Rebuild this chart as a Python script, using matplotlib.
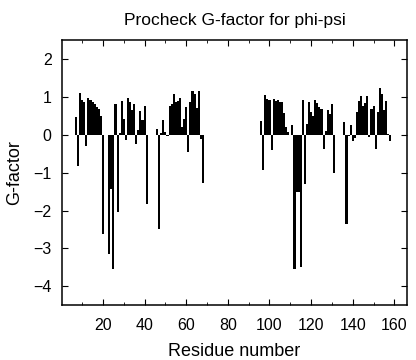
import numpy as np
import matplotlib
matplotlib.use('Agg')
import matplotlib.pyplot as plt
from matplotlib.ticker import MultipleLocator

plt.rcParams['font.family'] = ['Liberation Sans', 'DejaVu Sans']

# residue numbers with a G-factor value (gaps = no value)
residue = list(range(7, 21)) + list(range(23, 42)) + list(range(46, 69)) \
    + list(range(96, 110)) + list(range(111, 132)) + list(range(136, 159))

gfactor = [
    # 7-20
    0.48, -0.82, 1.11, 0.92, 0.86, -0.31, 0.98, 0.92, 0.87, 0.81, 0.72, 0.68, 0.50, -2.61,
    # 23-41
    -3.15, -1.43, -3.53, 0.80, -2.04, 0.05, 0.90, 0.42, -0.15, 0.97, 0.86, 0.64, 0.82,
    -0.25, 0.12, 0.62, 0.40, 0.75, -1.82,
    # 46-68
    0.16, -2.50, 0.05, 0.40, 0.07, -0.04, 0.75, 0.80, 1.08, 0.86, 0.90, 0.97, 0.20,
    0.42, 0.73, -0.46, 0.85, 1.15, 1.08, 0.70, 1.15, -0.10, -1.27,
    # 96-109
    0.35, -0.93, 1.04, 0.95, 0.91, -0.40, 0.95, 0.89, 0.91, 0.86, 0.86, 0.58, 0.20, 0.08,
    # 111-131
    0.26, -3.55, -1.52, -1.52, -3.50, 0.91, -1.30, 0.29, 0.86, 0.60, 0.50, 0.91, 0.83,
    0.73, 0.69, -0.38, 0.10, 0.64, 0.55, 0.80, -1.00,
    # 136-158
    0.34, -2.35, -0.03, 0.25, -0.17, -0.08, 0.60, 0.88, 1.02, 0.76, 0.84, 1.03, -0.07,
    0.68, 0.76, -0.37, 0.60, 1.24, 1.08, 0.66, 0.90, 0.02, -0.17,
]

fig = plt.figure(figsize=(4.16, 3.6), dpi=100)
ax = fig.add_axes([0.149, 0.152, 0.829, 0.737])

ax.bar(residue, gfactor, width=1.0, color='black', linewidth=0)

ax.set_xlim(0.3, 166)
ax.set_ylim(-4.5, 2.5)
ax.set_xticks([20, 40, 60, 80, 100, 120, 140, 160])
ax.xaxis.set_minor_locator(MultipleLocator(10))
ax.yaxis.set_major_locator(MultipleLocator(1))
ax.tick_params(which='both', direction='in', top=True, right=True, labelsize=11.5)
ax.tick_params(axis='x', which='major', length=4.5, pad=9)
ax.tick_params(axis='y', which='major', length=4.5, pad=7.5)
ax.tick_params(which='minor', length=2.5)
for s in ax.spines.values():
    s.set_linewidth(1.1)

ax.set_xlabel('Residue number', fontsize=13, labelpad=7)
ax.set_ylabel('G-factor', fontsize=13, labelpad=7)
ax.set_title('Procheck G-factor for phi-psi', fontsize=12.5, pad=11)

plt.savefig('out.png', dpi=100)
